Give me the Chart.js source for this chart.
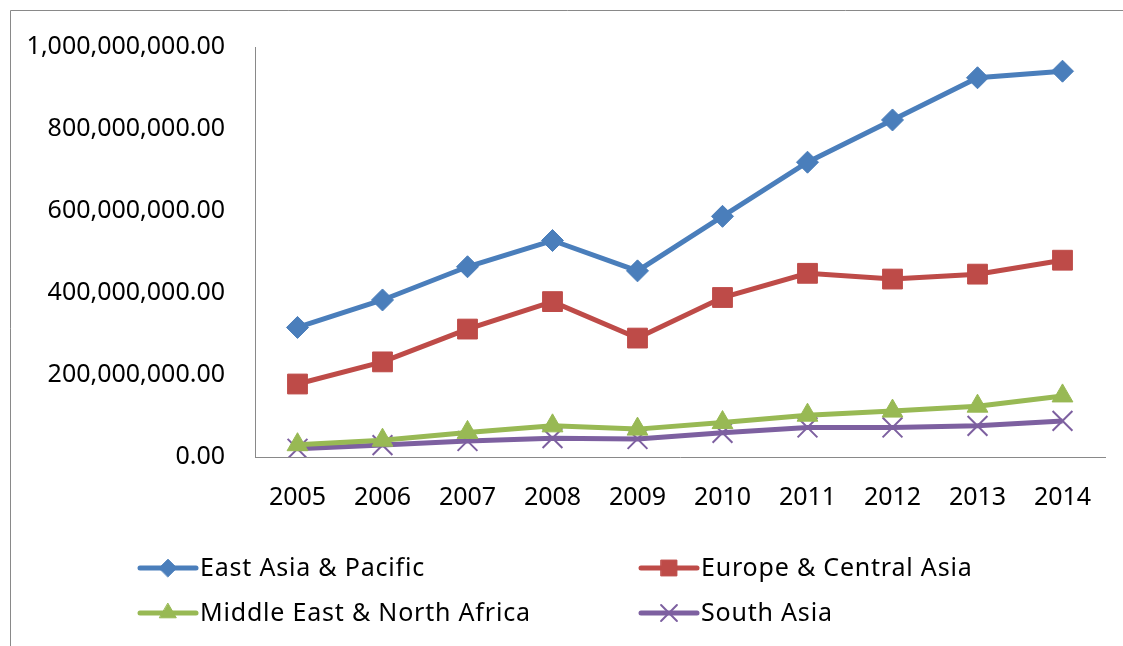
<!DOCTYPE html>
<html>
<head>
<meta charset="utf-8">
<script src="https://cdn.jsdelivr.net/npm/chart.js@4/dist/chart.umd.min.js"></script>
<style>
  html, body { margin: 0; padding: 0; background: #fff; }
  canvas { display: block; }
</style>
</head>
<body>
<canvas id="grafica" width="1123" height="646"></canvas>
<script>
const anios = ['2005', '2006', '2007', '2008', '2009', '2010', '2011', '2012', '2013', '2014'];
const etiquetas = ['East Asia & Pacific', 'Europe & Central Asia', 'Middle East & North Africa', 'South Asia'];

const eastAsia   = [316e6, 383e6, 464e6, 528e6, 454e6, 587e6, 719e6, 822e6, 925e6, 941e6];
const europe     = [178e6, 232e6, 312e6, 379e6, 290e6, 389e6, 448e6, 434e6, 446e6, 480e6];
const middleEast = [30e6, 41e6, 60e6, 76e6, 68e6, 84e6, 102e6, 112e6, 124e6, 149e6];
const southAsia  = [20e6, 29e6, 39e6, 46e6, 44e6, 59e6, 72e6, 72e6, 76e6, 88e6];

const yMin = 0;
const yMax = 1000000000;
const yPaso = 200000000;

const colores = ['#4a7ebb', '#be4b48', '#98b954', '#7d60a0'];

Chart.defaults.font.family = "'Noto Sans', 'DejaVu Sans', sans-serif";
Chart.defaults.font.size = 25;
Chart.defaults.color = '#000';

const serie = (label, data, color, estilo, radio) => ({
    label,
    data,
    borderColor : color,
    backgroundColor : color,
    borderWidth : 5,
    pointStyle : estilo,
    pointRadius : radio,
    pointBorderWidth : estilo === 'crossRot' ? 2 : 1,
    pointBackgroundColor : color,
    pointBorderColor : color,
    tension : 0
})

// marco del grafico y fondo blanco
const marco = {
    id : 'marco',
    beforeDraw(chart) {
        const ctx = chart.ctx
        ctx.save()
        ctx.fillStyle = '#fff'
        ctx.fillRect(0, 0, chart.width, chart.height)
        ctx.strokeStyle = '#898989'
        ctx.lineWidth = 1
        ctx.beginPath()
        ctx.moveTo(10.5, chart.height + 5)
        ctx.lineTo(10.5, 10.5)
        ctx.lineTo(chart.width + 5, 10.5)
        ctx.stroke()
        ctx.restore()
    }
}

// leyenda en dos columnas debajo del eje
const leyenda = {
    id : 'leyenda',
    afterDraw(chart) {
        const ctx = chart.ctx
        const columnas = [140, 641]
        const filas = [568, 613]
        chart.data.datasets.forEach((ds, i) => {
            const x0 = columnas[i % 2]
            const y = filas[Math.floor(i / 2)]
            ctx.save()
            ctx.strokeStyle = ds.borderColor
            ctx.lineWidth = 5
            ctx.lineCap = 'round'
            ctx.beginPath()
            ctx.moveTo(x0, y)
            ctx.lineTo(x0 + 56, y)
            ctx.stroke()
            ctx.fillStyle = ds.backgroundColor
            ctx.strokeStyle = ds.borderColor
            ctx.lineWidth = ds.pointBorderWidth
            Chart.helpers.drawPoint(ctx, {
                pointStyle : ds.pointStyle,
                radius : ds.pointRadius * 0.8,
                rotation : 0,
                borderWidth : ds.pointBorderWidth
            }, x0 + 28, y)
            ctx.fillStyle = '#000'
            ctx.font = "25px 'Noto Sans', 'DejaVu Sans', sans-serif"
            ctx.letterSpacing = '0.8px'
            ctx.textBaseline = 'middle'
            ctx.textAlign = 'left'
            ctx.fillText(ds.label, x0 + 60, y + 1)
            ctx.restore()
        })
    }
}

const canvas = document.getElementById('grafica')
const context = canvas.getContext('2d')

const grafica = new Chart(context, {
    type : 'line',
    data : {
        labels : anios,
        datasets : [
            serie(etiquetas[0], eastAsia, colores[0], 'rectRot', 11),
            serie(etiquetas[1], europe, colores[1], 'rect', 14),
            serie(etiquetas[2], middleEast, colores[2], 'triangle', 12),
            serie(etiquetas[3], southAsia, colores[3], 'crossRot', 14),
        ]
    },
    options : {
        responsive : false,
        animation : false,
        devicePixelRatio : 1,
        layout : {
            padding : { left : 0, top : 47, right : 18, bottom : 129 }
        },
        plugins : {
            legend : { display : false },
            tooltip : { enabled : false }
        },
        scales : {
            x : {
                offset : true,
                grid : { display : false, drawTicks : false },
                border : { display : true, color : '#898989', width : 1 },
                ticks : { padding : 26, maxRotation : 0 },
                afterFit : (scale) => { scale.height = 60 }
            },
            y : {
                min : yMin,
                max : yMax,
                grid : { display : false, drawTicks : false },
                border : { display : true, color : '#898989', width : 1 },
                ticks : {
                    stepSize : yPaso,
                    padding : 30,
                    callback : (v) => v.toLocaleString('en-US', { minimumFractionDigits : 2, maximumFractionDigits : 2 })
                },
                afterFit : (scale) => { scale.width = 255 }
            }
        }
    },
    plugins : [marco, leyenda]
})
</script>
</body>
</html>
